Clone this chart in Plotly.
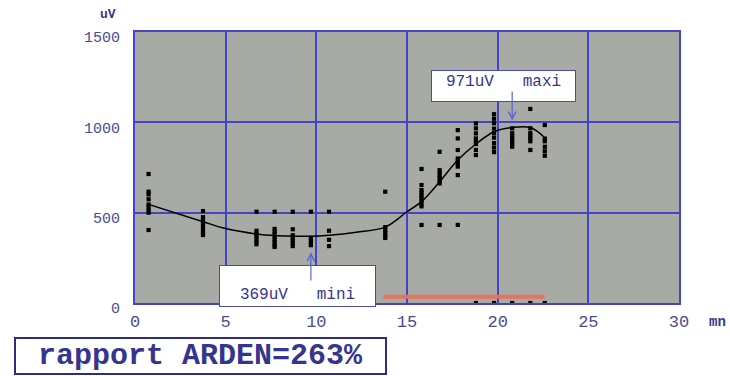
import plotly.graph_objects as go

# Measurement times (min) and the amplitudes recorded at each time (uV)
times = [0.75, 3.75, 6.7, 7.7, 8.7, 9.7, 10.7, 13.8,
         15.8, 16.8, 17.8, 18.8, 19.8, 20.8, 21.8, 22.6]
amplitudes = [
    [714, 616, 601, 574, 545, 530, 515, 500, 404],
    [509, 475, 460, 445, 430, 415, 400, 385, 376],
    [505, 400, 385, 370, 355, 340, 325],
    [505, 410, 395, 380, 365, 350, 335, 320, 310],
    [505, 408, 375, 360, 345, 330, 315],
    [505, 360, 345, 330, 320],
    [505, 400, 350, 315],
    [616, 420, 405, 390, 375, 360],
    [742, 653, 625, 610, 595, 580, 565, 550, 535, 432],
    [837, 735, 720, 705, 690, 675, 662, 432],
    [957, 911, 847, 800, 785, 770, 755, 708, 432],
    [994, 967, 939, 911, 895, 880, 847, 819, 0],
    [1045, 1020, 995, 965, 940, 915, 885, 860, 835, 0],
    [967, 940, 925, 910, 895, 880, 865, 0],
    [1074, 967, 940, 925, 910, 895, 847, 0],
    [985, 910, 895, 865, 840, 815, 0],
]

# Fitted mean curve
curve_x = [0.75, 3.75, 5, 6.7, 7.7, 8.7, 9.7, 10.7, 12.2, 13.8,
           15, 15.8, 16.8, 17.8, 18.8, 19.8, 20.8, 21.8, 22.6]
curve_y = [546, 450, 412, 382, 373, 370, 369, 375, 392, 420,
           505, 561, 671, 791, 880, 948, 971, 971, 915]

# Stimulation period marker
stim_x = [13.7, 22.6]
stim_level = [35, 35]

min_x, min_val = 9.7, 369
max_x, max_val = 20.8, 971
ratio = 263

x_ticks = [0, 5, 10, 15, 20, 25, 30]
y_ticks = [0, 500, 1000, 1500]

pts_x, pts_y = [], []
for t, vals in zip(times, amplitudes):
    for v in vals:
        pts_x.append(t)
        pts_y.append(v)

INK = "#35358f"
GRID = "#4444c4"
MONO = "Liberation Mono"

fig = go.Figure()
fig.add_trace(go.Scatter(x=stim_x, y=stim_level, mode="lines",
                         line=dict(color="#e8725c", width=4),
                         hoverinfo="skip"))
fig.add_trace(go.Scatter(x=pts_x, y=pts_y, mode="markers",
                         marker=dict(symbol="square", size=4.2, color="black",
                                     line=dict(width=0))))
fig.add_trace(go.Scatter(x=curve_x, y=curve_y, mode="lines",
                         line=dict(color="black", width=1.5, shape="spline",
                                   smoothing=1.0)))

annotations = [
    # value boxes
    dict(xref="paper", yref="paper", x=0.677, y=0.8007,
         text=f"{max_val}uV\u00a0\u00a0\u00a0maxi", showarrow=False,
         font=dict(family=MONO, size=16, color=INK),
         bgcolor="white", bordercolor="#4a4aa8", borderwidth=1, borderpad=2,
         width=139, height=26, valign="top", xanchor="center", yanchor="middle"),
    dict(xref="paper", yref="paper", x=0.299, y=0.0627,
         text=f"{min_val}uV\u00a0\u00a0\u00a0mini", showarrow=False,
         font=dict(family=MONO, size=16, color=INK),
         bgcolor="white", bordercolor="#4a4aa8", borderwidth=1, borderpad=2,
         width=151, height=36, valign="bottom", xanchor="center", yanchor="middle"),
    # arrows to the extrema of the curve
    dict(x=max_x, y=max_val, ax=max_x, ay=1179, xref="x", yref="y",
         axref="x", ayref="y", text="", showarrow=True, arrowhead=5,
         arrowsize=1.2, arrowwidth=1.2, arrowcolor="#5a64d0", standoff=7),
    dict(x=min_x, y=min_val, ax=min_x, ay=116, xref="x", yref="y",
         axref="x", ayref="y", text="", showarrow=True, arrowhead=5,
         arrowsize=1.2, arrowwidth=1.2, arrowcolor="#5a64d0", standoff=16),
    # axis units
    dict(xref="paper", yref="paper", x=-0.0496, y=1.066, text="<b>uV</b>",
         showarrow=False, xanchor="center", yanchor="middle",
         font=dict(family=MONO, size=13, color=INK)),
    dict(xref="paper", yref="paper", x=1.07, y=-0.070, text="<b>mn</b>",
         showarrow=False, xanchor="center", yanchor="middle",
         font=dict(family=MONO, size=14, color=INK)),
    # ratio box
    dict(xref="paper", yref="paper", x=0.1195, y=-0.1956,
         text=f"<b>rapport ARDEN={ratio}%</b>", showarrow=False,
         font=dict(family=MONO, size=30, color=INK),
         bgcolor="white", bordercolor="#2e2e80", borderwidth=2, borderpad=2,
         width=365, height=30, xanchor="center", yanchor="middle"),
]

fig.update_layout(
    width=730, height=376,
    margin=dict(l=135, r=51, t=32, b=73),
    paper_bgcolor="white",
    plot_bgcolor="#a8aaa6",
    showlegend=False,
    annotations=annotations,
    xaxis=dict(range=[0, 30], tickvals=x_ticks, ticktext=[str(v) for v in x_ticks],
               showgrid=True, gridcolor=GRID, gridwidth=2, zeroline=False,
               showline=True, linecolor=GRID, linewidth=2, mirror=True,
               ticks="", ticklabelstandoff=2,
               tickfont=dict(family=MONO, size=17, color="#4a4a98")),
    yaxis=dict(range=[0, 1500], tickvals=y_ticks, ticktext=[str(v) for v in y_ticks],
               showgrid=True, gridcolor=GRID, gridwidth=2, zeroline=False,
               showline=True, linecolor=GRID, linewidth=2, mirror=True,
               ticks="", ticklabelstandoff=10, ticklabelshift=5,
               tickfont=dict(family=MONO, size=15, color="#4a4a98")),
)

fig.write_html("out.html")
